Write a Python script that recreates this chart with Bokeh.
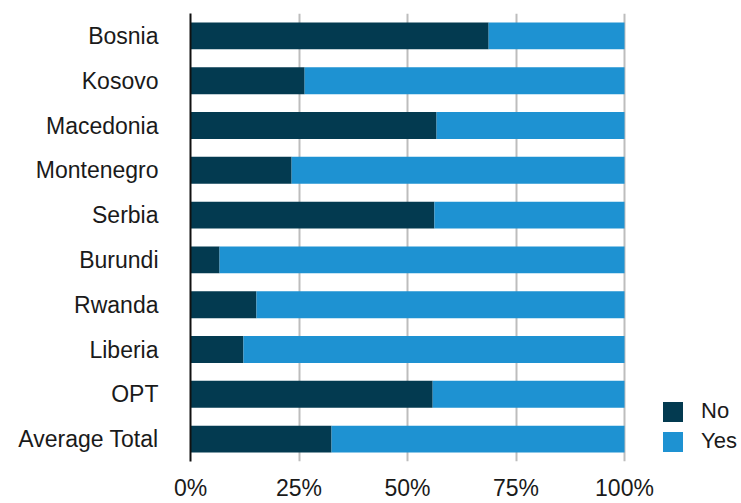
from bokeh.plotting import figure
from bokeh.models import ColumnDataSource, FactorRange, FixedTicker, PrintfTickFormatter, Legend
from bokeh.embed import file_html
from bokeh.resources import INLINE

categories = ["Bosnia", "Kosovo", "Macedonia", "Montenegro", "Serbia",
              "Burundi", "Rwanda", "Liberia", "OPT", "Average Total"]
no_vals = [68.7, 26.3, 56.7, 23.3, 56.2, 6.7, 15.2, 12.2, 55.8, 32.5]
yes_vals = [100 - v for v in no_vals]
series = ["No", "Yes"]
colors = ["#033a50", "#1e92d2"]
x_ticks = [0, 25, 50, 75, 100]

source = ColumnDataSource(dict(cat=categories, No=no_vals, Yes=yes_vals))

FONT = "Liberation Sans"
TXT = "#1a1a1a"

# frame extends to the right edge so the legend (drawn inside the frame) is not clipped;
# the x scale still puts 100% at the same place (434 px for 100 units).
p = figure(width=741, height=503, output_backend="svg", toolbar_location=None,
           y_range=FactorRange(*reversed(categories)), x_range=(0, 551 / 4.34),
           min_border_left=190, min_border_right=0, min_border_top=13, min_border_bottom=37)

rs = p.hbar_stack(series, y="cat", height=0.6, color=colors, line_color=None, source=source)

p.outline_line_color = None
p.ygrid.grid_line_color = None
p.xgrid.grid_line_color = "#bdbdbd"
p.xgrid.grid_line_width = 2
p.xaxis.ticker = FixedTicker(ticks=x_ticks)
p.xaxis.formatter = PrintfTickFormatter(format="%d%%")
p.xaxis.axis_line_color = None
p.xaxis.major_tick_line_color = None
p.xaxis.minor_tick_line_color = None
p.xaxis.major_label_standoff = 7
p.xaxis.major_label_text_font = FONT
p.xaxis.major_label_text_font_size = "23px"
p.xaxis.major_label_text_color = TXT

p.yaxis.axis_line_color = "#111111"
p.yaxis.axis_line_width = 2
p.yaxis.major_tick_line_color = None
p.yaxis.minor_tick_line_color = None
p.yaxis.major_label_standoff = 26
p.yaxis.major_label_text_font = FONT
p.yaxis.major_label_text_font_size = "23px"
p.yaxis.major_label_text_color = TXT

legend = Legend(items=[(s, [r]) for s, r in zip(series, rs)],
                location=(470, 7), orientation="vertical",
                glyph_width=25, glyph_height=25, spacing=4, label_standoff=16,
                label_text_font=FONT, label_text_font_size="22px", label_text_color=TXT,
                padding=0, margin=0, background_fill_alpha=0, border_line_color=None,
                label_height=25)
p.add_layout(legend, "center")

open("out.html", "w").write(file_html(p, INLINE))
